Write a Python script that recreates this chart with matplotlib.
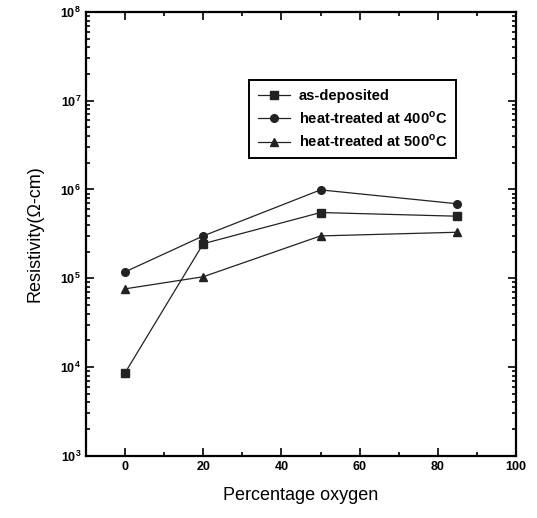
import matplotlib

matplotlib.use("Agg")
import matplotlib.pyplot as plt  # noqa: E402
from matplotlib.ticker import LogLocator, NullFormatter, MultipleLocator  # noqa: E402

plt.rcParams["font.family"] = ["Liberation Sans", "DejaVu Sans"]
plt.rcParams["mathtext.fontset"] = "custom"
plt.rcParams["mathtext.rm"] = "Liberation Sans"
plt.rcParams["mathtext.bf"] = "Liberation Sans:bold"

oxygen = [0, 20, 50, 85]
as_deposited = [8.6e3, 2.45e5, 5.5e5, 5.0e5]
heat_400 = [1.18e5, 3.0e5, 9.9e5, 6.9e5]
heat_500 = [7.6e4, 1.04e5, 3.0e5, 3.3e5]

labels = [
    "as-deposited",
    r"heat-treated at 400$^\mathbf{o}$C",
    r"heat-treated at 500$^\mathbf{o}$C",
]

fig = plt.figure(figsize=(5.37, 5.18), dpi=100)
ax = fig.add_axes([0.160, 0.120, 0.801, 0.857])

line_kw = dict(color="#222222", linewidth=0.9, markersize=5.5)
ax.plot(oxygen, as_deposited, "s-", label=labels[0], **line_kw)
ax.plot(oxygen, heat_400, "o-", label=labels[1], **line_kw)
ax.plot(oxygen, heat_500, "^-", label=labels[2], **line_kw)

ax.set_yscale("log")
ax.set_xlim(-10, 100)
ax.set_ylim(1e3, 1e8)
ax.xaxis.set_major_locator(MultipleLocator(20))
ax.xaxis.set_minor_locator(MultipleLocator(10))
ax.yaxis.set_major_locator(LogLocator(base=10, numticks=10))
ax.yaxis.set_minor_locator(LogLocator(base=10, subs=range(2, 10), numticks=20))
ax.yaxis.set_minor_formatter(NullFormatter())

ax.tick_params(which="both", direction="in", top=True, right=True, width=1.2)
ax.tick_params(which="major", length=6, labelsize=9)
ax.tick_params(which="minor", length=3)
for lbl in ax.get_xticklabels() + ax.get_yticklabels():
    lbl.set_fontweight("bold")
for s in ax.spines.values():
    s.set_linewidth(1.6)

ax.set_xlabel("Percentage oxygen", fontsize=13, labelpad=10)
ax.set_ylabel("Resistivity(\u03a9-cm)", fontsize=13, labelpad=12)

leg = ax.legend(
    loc="upper left",
    bbox_to_anchor=(0.362, 0.862),
    fancybox=False,
    edgecolor="black",
    framealpha=1,
    prop={"weight": "bold", "size": 10.5},
    handlelength=2.2,
    handletextpad=0.6,
    borderpad=0.6,
    labelspacing=0.45,
)
leg.get_frame().set_linewidth(1.4)

fig.savefig("out.png", dpi=100)
